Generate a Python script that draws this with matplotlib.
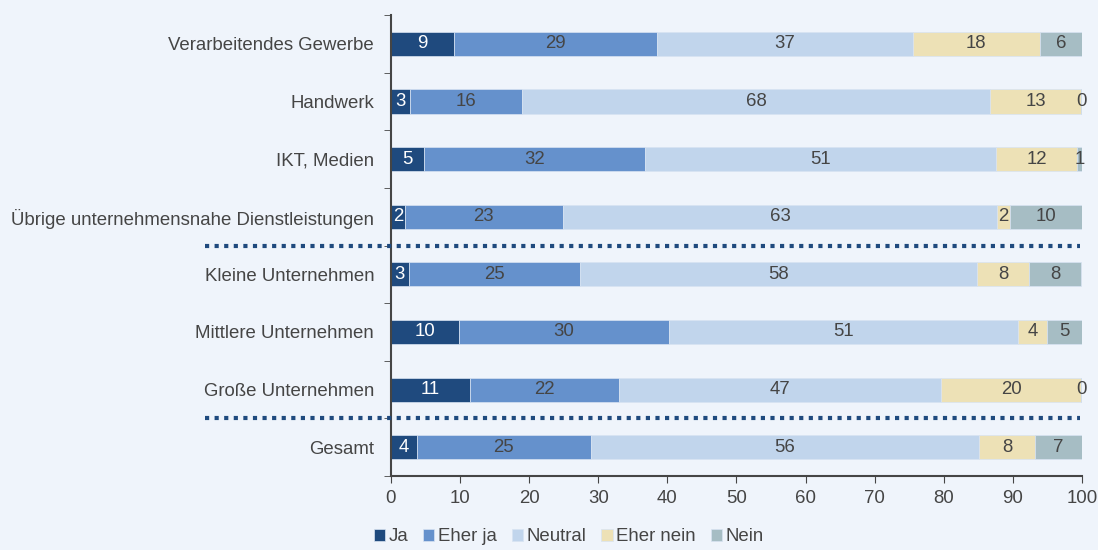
import numpy as np
import matplotlib.pyplot as plt
from matplotlib.transforms import blended_transform_factory

plt.rcParams['font.family'] = ['Liberation Sans', 'DejaVu Sans']

# Branchen / Größenklassen (oben nach unten)
categories = [
    'Verarbeitendes Gewerbe',
    'Handwerk',
    'IKT, Medien',
    'Übrige unternehmensnahe Dienstleistungen',
    'Kleine Unternehmen',
    'Mittlere Unternehmen',
    'Große Unternehmen',
    'Gesamt',
]
series = ['Ja', 'Eher ja', 'Neutral', 'Eher nein', 'Nein']

# Anteile in Prozent
ja = [9.1, 2.7, 4.8, 2.0, 2.6, 9.8, 11.4, 3.8]
eher_ja = [29.4, 16.3, 32.0, 22.9, 24.7, 30.4, 21.6, 25.1]
neutral = [37.0, 67.7, 50.8, 62.8, 57.5, 50.6, 46.6, 56.2]
eher_nein = [18.4, 13.2, 11.7, 1.9, 7.6, 4.1, 20.3, 8.1]
nein = [6.1, 0.1, 0.7, 10.4, 7.5, 5.1, 0.1, 6.8]

colors = ['#1F4A7E', '#6591CC', '#C1D5EC', '#EDE1B6', '#A6BDC4']
text_colors = ['white', '#454545', '#454545', '#454545', '#454545']
bg = '#EFF4FB'
grey = '#454545'
fs = 13.4

fig = plt.figure(figsize=(10.98, 5.5), dpi=100, facecolor=bg)
ax = fig.add_axes([0.356, 0.1345, 0.6294, 0.838], facecolor=bg)

y = np.arange(len(categories))
left = np.zeros(len(categories))
for name, vals, c, tc in zip(series, [ja, eher_ja, neutral, eher_nein, nein], colors, text_colors):
    vals = np.array(vals)
    ax.barh(y, vals, left=left, height=0.42, color=c, edgecolor='#D8E3F2',
            linewidth=0.5, label=name)
    for yi, l, v in zip(y, left, vals):
        ax.text(l + v / 2, yi, f'{v:.0f}', ha='center', va='center',
                fontsize=fs, color=tc)
    left += vals

ax.set_xlim(0, 100)
ax.set_ylim(len(categories) - 0.5, -0.5)
ax.set_xticks(np.arange(0, 101, 10))
ax.set_yticks(y)
ax.set_yticklabels(categories)
ax.set_yticks(np.arange(-0.5, len(categories), 1), minor=True)
ax.tick_params(axis='y', which='major', length=0, pad=12, labelsize=fs, labelcolor=grey)
ax.tick_params(axis='y', which='minor', length=5, color=grey, direction='out')
ax.tick_params(axis='x', length=5, color=grey, labelsize=fs, labelcolor=grey, pad=5)

for s in ['top', 'right']:
    ax.spines[s].set_visible(False)
for s in ['left', 'bottom']:
    ax.spines[s].set_color(grey)
    ax.spines[s].set_linewidth(1.5)

# gepunktete Trennlinien zwischen den Gruppen
trans = blended_transform_factory(ax.transAxes, ax.transData)
for sep in [3.5, 6.5]:
    ax.plot([-0.269, 0.997], [sep, sep], transform=trans, clip_on=False,
            color='#1F4A7E', linewidth=3, linestyle=(0, (1, 1.3)),
            dash_capstyle='butt', zorder=5)

fig.legend(loc='center', bbox_to_anchor=(0.518, 0.024), ncol=5, frameon=False,
           fontsize=fs, handlelength=0.6, handleheight=0.6, handletextpad=0.2,
           columnspacing=0.8, labelcolor=grey, borderpad=0.1)

fig.savefig('out.png', dpi=100, facecolor=bg)
